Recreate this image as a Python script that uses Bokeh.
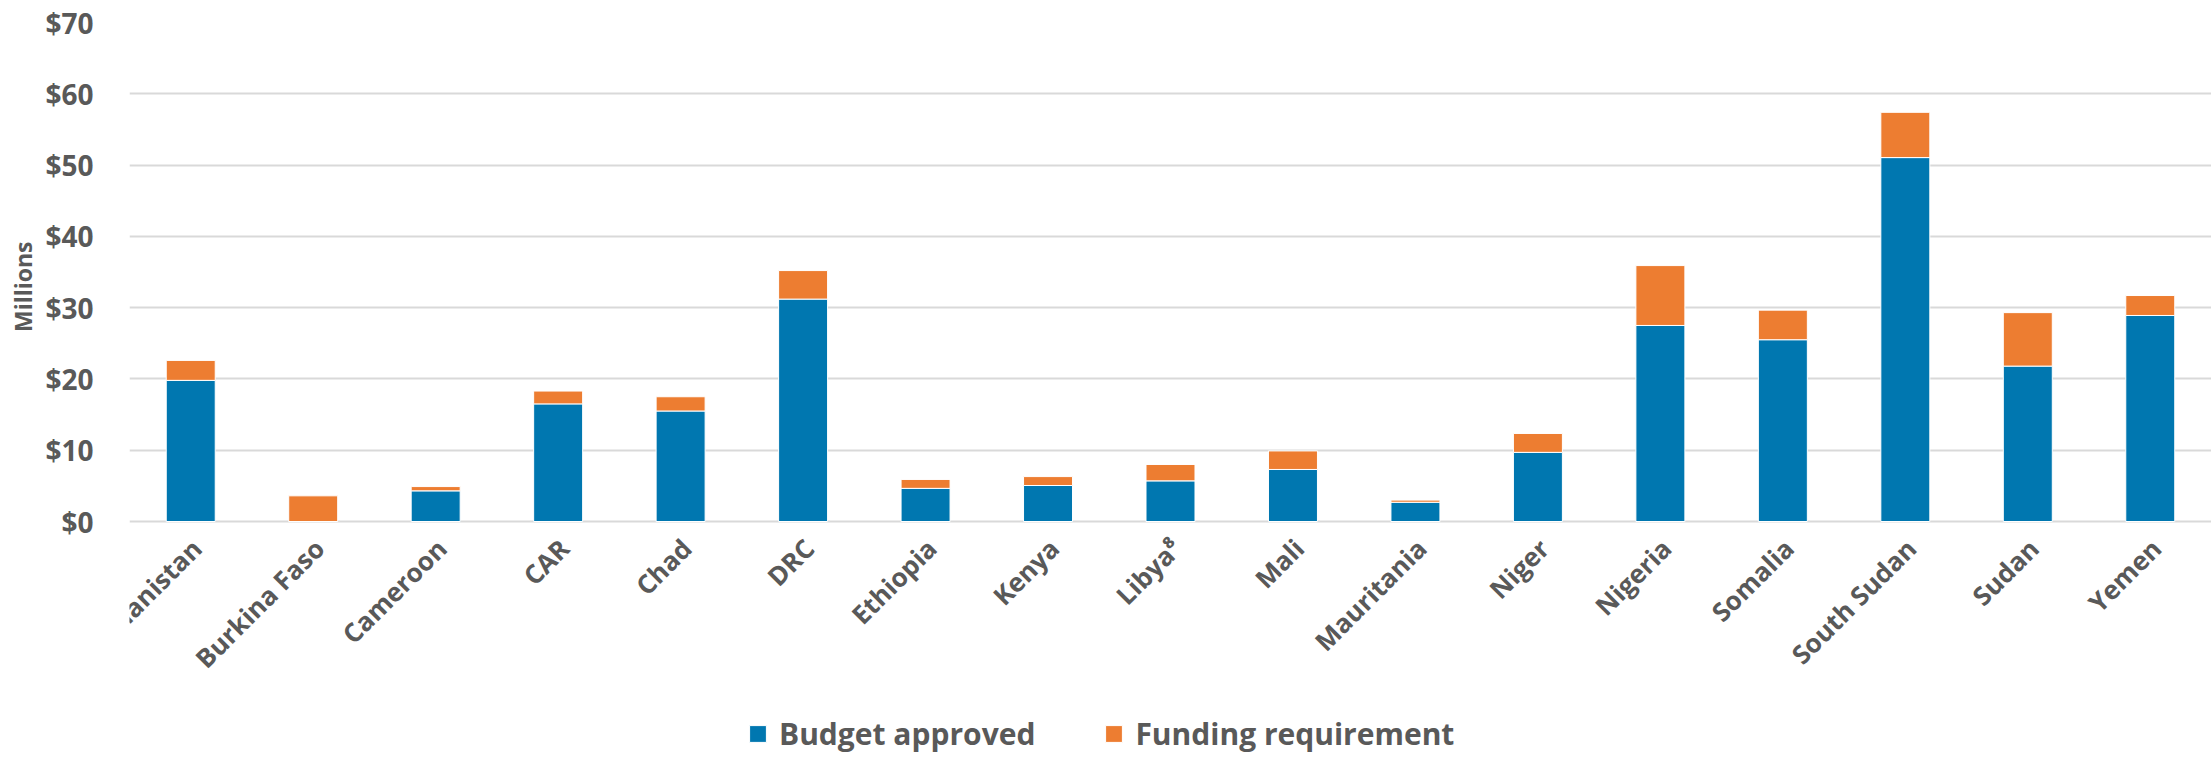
import math
from bokeh.plotting import figure
from bokeh.models import (ColumnDataSource, FactorRange, Range1d, FixedTicker, Legend,
                          LegendItem, Title)
from bokeh.core.properties import value
from bokeh.embed import file_html
from bokeh.resources import INLINE

countries = ["Afghanistan", "Burkina Faso", "Cameroon", "CAR", "Chad", "DRC", "Ethiopia",
             "Kenya", "Libya\u2078", "Mali", "Mauritania", "Niger", "Nigeria", "Somalia",
             "South Sudan", "Sudan", "Yemen"]
budget_approved = [19.8, 0.0, 4.3, 16.5, 15.5, 31.2, 4.65, 5.05, 5.7, 7.3, 2.7, 9.7,
                   27.5, 25.5, 51.05, 21.8, 28.9]
funding_requirement = [2.8, 3.6, 0.6, 1.8, 2.0, 4.0, 1.25, 1.25, 2.3, 2.6, 0.3, 2.65,
                       8.4, 4.15, 6.35, 7.5, 2.8]
y_ticks = [0, 10, 20, 30, 40, 50, 60, 70]
y_tick_labels = ["$0", "$10", "$20", "$30", "$40", "$50", "$60", "$70"]
series = ["budget_approved", "funding_requirement"]
series_labels = ["Budget approved", "Funding requirement"]
colors = ["#0077B0", "#ED7D31"]

FONT = "Open Sans"
TXT = "#595959"

# plot frame: the value axis occupies the top 499 px; the remaining 233 px below hold
# the category labels and the legend
FRAME_H = 732
VAL_H = 499
Y_MAX = 70
y_min = -Y_MAX * (FRAME_H - VAL_H) / VAL_H

source = ColumnDataSource(dict(country=countries, budget_approved=budget_approved,
                               funding_requirement=funding_requirement))

p = figure(x_range=FactorRange(*countries, range_padding=0), y_range=Range1d(y_min, Y_MAX),
           frame_width=2082, frame_height=FRAME_H, output_backend="svg", toolbar_location=None,
           min_border_left=118, min_border_right=0, min_border_top=22, min_border_bottom=0)
p.outline_line_color = None

rs = p.vbar_stack(series, x="country", width=0.40, source=source, fill_color=colors,
                  line_color="white", line_width=1)

# category labels, rotated 45 degrees under each bar
p.text(x="country", y=0, text="country", source=source, angle=math.pi / 4,
       text_align="right", text_baseline="middle", x_offset=6, y_offset=22,
       text_font=value(FONT), text_font_size="26px", text_font_style="bold",
       text_color=TXT)

p.xaxis.visible = False

p.yaxis.ticker = FixedTicker(ticks=y_ticks)
p.yaxis.major_label_overrides = {t: l for t, l in zip(y_ticks, y_tick_labels)}
p.yaxis.axis_line_color = None
p.yaxis.major_tick_line_color = None
p.yaxis.minor_tick_line_color = None
p.yaxis.major_label_text_font = FONT
p.yaxis.major_label_text_font_style = "bold"
p.yaxis.major_label_text_color = TXT
p.yaxis.major_label_text_font_size = "28px"
p.yaxis.major_label_standoff = 30

ytitle = Title(text="Millions", align="right", offset=219, standoff=8,
               text_font=FONT, text_font_size="23px", text_font_style="bold",
               text_color=TXT)
p.add_layout(ytitle, "left")

p.xgrid.grid_line_color = None
p.ygrid.grid_line_color = "#D9D9D9"
p.ygrid.grid_line_width = 2

legend = Legend(items=[LegendItem(label=series_labels[i], renderers=[rs[i]]) for i in range(2)],
                orientation="horizontal", location=(618, 0))
legend.label_text_font = FONT
legend.label_text_font_size = "30px"
legend.label_text_font_style = "bold"
legend.label_text_color = TXT
legend.glyph_width = 21
legend.glyph_height = 21
legend.spacing = 68
legend.label_standoff = 11
legend.padding = 10
legend.margin = 0
legend.border_line_color = None
legend.background_fill_color = None
p.add_layout(legend, "center")

open("out.html", "w").write(file_html(p, INLINE))
